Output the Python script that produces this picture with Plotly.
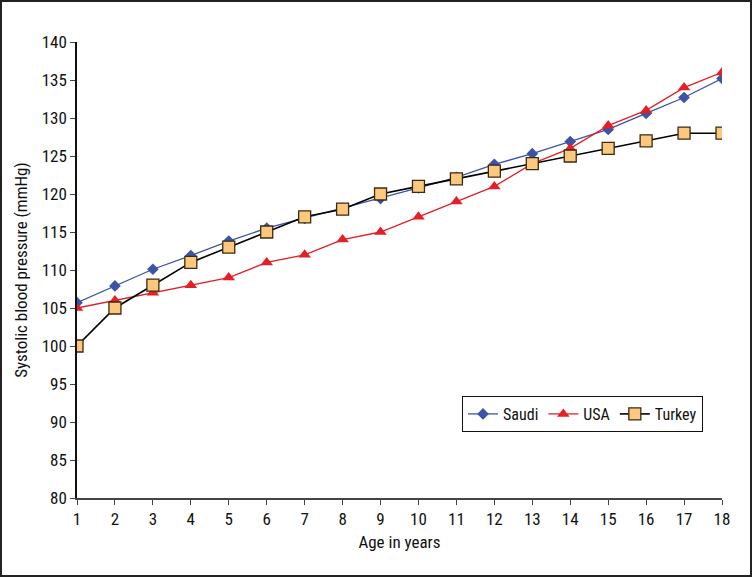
import plotly.graph_objects as go

ages = list(range(1, 19))
saudi = [105.7, 107.9, 110.1, 111.9, 113.8, 115.5, 116.8, 118.1, 119.4, 120.8, 122.2, 123.9, 125.3, 126.9, 128.5, 130.6, 132.7, 135.2]
usa = [105, 106, 107, 108, 109, 111, 112, 114, 115, 117, 119, 121, 124, 126, 129, 131, 134, 136]
turkey = [100, 105, 108, 111, 113, 115, 117, 118, 120, 121, 122, 123, 124, 125, 126, 127, 128, 128]
y_ticks = [80, 85, 90, 95, 100, 105, 110, 115, 120, 125, 130, 135, 140]

FONT = "Liberation Sans Narrow, Arial Narrow, Roboto Condensed, Liberation Sans, sans-serif"

fig = go.Figure()
fig.add_trace(go.Scatter(x=ages, y=saudi, name="Saudi", mode="lines+markers",
                         line=dict(color="#3b54a5", width=1.3),
                         marker=dict(symbol="diamond", size=9, color="#3b54a5")))
fig.add_trace(go.Scatter(x=ages, y=usa, name="USA", mode="lines+markers",
                         line=dict(color="#e41f26", width=1.3),
                         marker=dict(symbol="triangle-up", size=11, color="#e41f26")))
fig.add_trace(go.Scatter(x=ages, y=turkey, name="Turkey", mode="lines+markers",
                         line=dict(color="#000000", width=1.6),
                         marker=dict(symbol="square", size=12, color="#fcc87e",
                                     line=dict(color="#3a2a10", width=1.3))))

L, R, T, B = 77, 30, 42, 79
W, H = 752, 577
pw, ph = W - L - R, H - T - B

fig.update_layout(
    width=W, height=H,
    margin=dict(l=L, r=R, t=T, b=B, pad=0),
    paper_bgcolor="white", plot_bgcolor="white",
    font=dict(family=FONT, size=16, color="#111111"),
    showlegend=True,
    legend=dict(orientation="h", x=(462 - L) / pw, y=(498 - 396) / ph, yanchor="top",
                xanchor="left", bordercolor="#111111", borderwidth=1,
                bgcolor="white", font=dict(size=16), itemwidth=30, tracegroupgap=0),
    xaxis=dict(range=[1, 18], tickmode="array", tickvals=ages, showgrid=False,
               zeroline=False, showline=True, linecolor="#444444", linewidth=1.5,
               ticks="outside", ticklen=5, tickcolor="#444444",
               title=dict(text="Age in years", font=dict(size=17), standoff=8),
               tickfont=dict(size=17)),
    yaxis=dict(range=[80, 140], tickmode="array", tickvals=y_ticks, showgrid=False,
               zeroline=False, showline=True, linecolor="#111111", linewidth=1.5,
               ticks="outside", ticklen=5, tickcolor="#444444",
               title=dict(text="Systolic blood pressure (mmHg)", font=dict(size=17), standoff=10),
               tickfont=dict(size=17)),
    shapes=[dict(type="rect", xref="paper", yref="paper",
                 x0=(-L + 1) / pw, x1=1 + (R - 1) / pw,
                 y0=(-B + 1) / ph, y1=1 + (T - 1) / ph,
                 line=dict(color="#222222", width=2), fillcolor="rgba(0,0,0,0)")],
)

fig.write_html("out.html", config={"displayModeBar": False},
               post_script="document.body.style.margin='0';document.body.style.overflow='hidden';")
